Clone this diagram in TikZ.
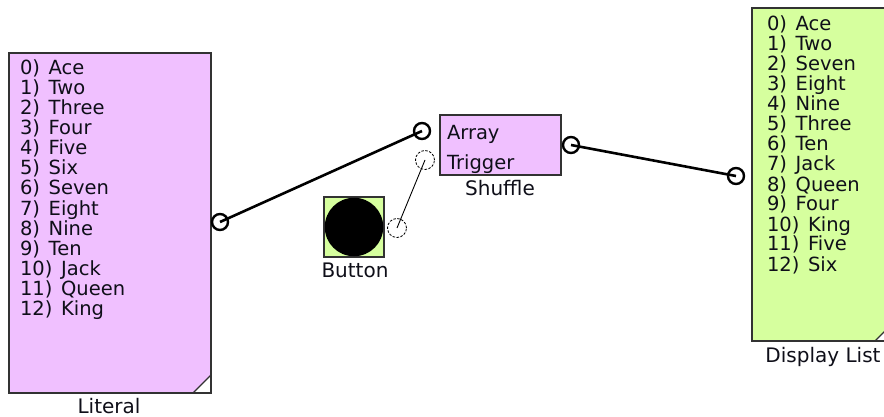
\documentclass[tikz,border=0pt]{standalone}
\usepackage{fontspec}
\setmainfont{DejaVu Sans}
\definecolor{litpink}{RGB}{240,192,255}
\definecolor{dispgreen}{RGB}{214,255,158}
\definecolor{bordergray}{RGB}{50,50,50}
\definecolor{txtcol}{RGB}{15,15,25}
\newcommand{\itm}[2]{#1)\hspace{2.5pt} #2}
\begin{document}
\begin{tikzpicture}[x=1pt,y=-1pt,
  txt/.style={font=\fontsize{19.5}{20}\selectfont, inner sep=0pt, outer sep=0pt, anchor=base west, text=txtcol},
  lbl/.style={font=\fontsize{20}{20}\selectfont, inner sep=0pt, outer sep=0pt, anchor=base, text=txtcol},
  boxfill/.style={rectangle, inner sep=0pt, outer sep=0pt},
  boxborder/.style={draw=bordergray, line width=2pt},
  port/.style={circle, draw=black, line width=2.4pt, fill=white, minimum size=16pt, inner sep=0pt},
  dport/.style={circle, draw=black, line width=0.8pt, dash pattern=on 2.5pt off 1.5pt, fill=white, minimum size=19pt, inner sep=0pt},
  wire/.style={draw=black, line width=2.6pt},
  thinwire/.style={draw=black, line width=0.9pt}]
\useasboundingbox (0,0) rectangle (884,417);
\clip (0,0) rectangle (884,417);
\fill[white] (0,0) rectangle (884,417);

% Literal block
\node[boxfill, fill=litpink, minimum width=202pt, minimum height=340pt] (literal) at (110,223) {};
\fill[white] (literal.south east) -- ++(-18,0) -- ++(18,-18) -- cycle;
\draw[bordergray, line width=1.2pt] ([xshift=-18pt]literal.south east) -- ([yshift=18pt]literal.south east);
\draw[boxborder] (literal.north west) rectangle (literal.south east);
\foreach \t [count=\i from 0] in {Ace,Two,Three,Four,Five,Six,Seven,Eight,Nine,Ten,Jack,Queen,King}
  \node[txt] (lit\i) at (20,75+20*\i) {\itm{\i}{\t}};
\node[lbl] (litlabel) at (109,413) {Literal};

% Display List block
\node[boxfill, fill=dispgreen, minimum width=141pt, minimum height=333pt] (display) at (822.5,174.5) {};
\fill[white] (display.south east) -- ++(-18,0) -- ++(18,-18) -- cycle;
\draw[bordergray, line width=1.2pt] ([xshift=-18pt]display.south east) -- ([yshift=18pt]display.south east);
\draw[boxborder] (display.north west) rectangle (display.south east);
\foreach \t [count=\i from 0] in {Ace,Two,Seven,Eight,Nine,Three,Ten,Jack,Queen,Four,King,Five,Six}
  \node[txt] (disp\i) at (767,31+20*\i) {\itm{\i}{\t}};
\node[lbl] (displabel) at (823,362) {Display List};

% Shuffle block
\node[boxfill, fill=litpink, draw=bordergray, line width=1.5pt, minimum width=121pt, minimum height=60pt] (shuffle) at (500.5,145) {};
\node[txt] (arraytxt) at (447,140) {Array};
\node[txt] (triggertxt) at (447,170) {Trigger};
\node[lbl] (shufflelabel) at (500,196) {Shuffle};

% Button block
\node[boxfill, fill=dispgreen, draw=bordergray, line width=1.5pt, minimum width=60pt, minimum height=60pt] (button) at (354,227) {};
\node[circle, fill=black, minimum size=58.5pt, inner sep=0pt] (buttondot) at (354,227) {};
\node[lbl] (buttonlabel) at (355,277) {Button};

% Ports
\node[port] (litout) at (220,222) {};
\node[port] (arrin) at (422,131) {};
\node[dport] (trigin) at (425,160) {};
\node[port] (shufout) at (571,145) {};
\node[port] (dispin) at (736,176) {};
\node[dport] (btnout) at (397,228) {};

% Wires
\draw[wire] (litout.center) -- (arrin.center);
\draw[wire] (shufout.center) -- (dispin.center);
\draw[thinwire] (btnout.center) -- (trigin.center);
\end{tikzpicture}
\end{document}
